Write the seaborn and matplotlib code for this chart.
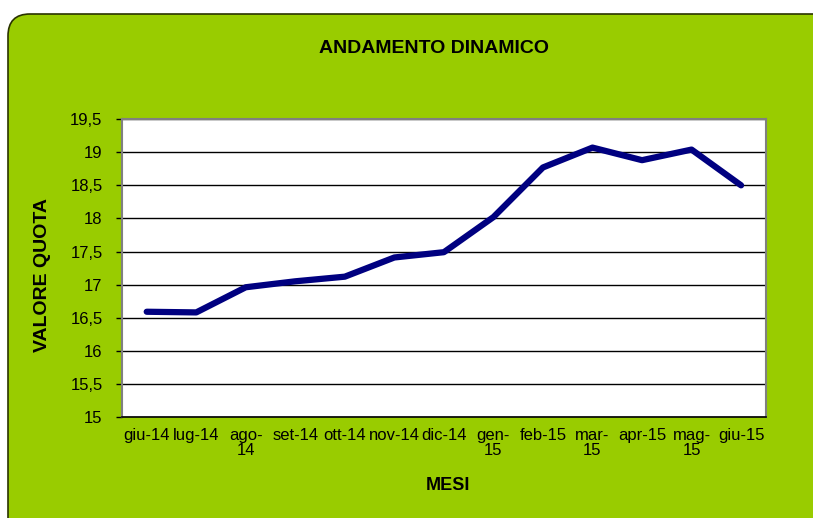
import numpy as np
import pandas as pd
import seaborn as sns
import matplotlib.pyplot as plt
from matplotlib.patches import FancyBboxPatch
from matplotlib.ticker import FuncFormatter

# Dati
mesi = ["giu-14", "lug-14", "ago-14", "set-14", "ott-14", "nov-14", "dic-14",
        "gen-15", "feb-15", "mar-15", "apr-15", "mag-15", "giu-15"]
etichette = ["giu-14", "lug-14", "ago-\n14", "set-14", "ott-14", "nov-14", "dic-14",
             "gen-\n15", "feb-15", "mar-\n15", "apr-15", "mag-\n15", "giu-15"]
valore_quota = [16.59, 16.58, 16.96, 17.05, 17.12, 17.41, 17.49,
                18.02, 18.77, 19.07, 18.88, 19.04, 18.50]

df = pd.DataFrame({"mese": mesi, "valore": valore_quota})

sns.set_style("white")
plt.rcParams["font.family"] = ["Liberation Sans", "DejaVu Sans"]
plt.rcParams["text.color"] = "black"
plt.rcParams["xtick.color"] = "black"
plt.rcParams["ytick.color"] = "black"

fig = plt.figure(figsize=(8.13, 5.18), dpi=100)
fig.patch.set_facecolor("white")

# sfondo verde arrotondato
sfondo = FancyBboxPatch((8, -30), 830, 534, boxstyle="round,pad=0,rounding_size=22",
                        transform=None, facecolor="#99CC00", edgecolor="#2a3300",
                        linewidth=1.2, zorder=0)
fig.patches.append(sfondo)

ax = fig.add_axes([0.150, 0.195, 0.792, 0.575])
ax.set_facecolor("white")
ax.set_zorder(2)

sns.lineplot(data=df, x="mese", y="valore", ax=ax, color="#000080",
             linewidth=4.5, solid_capstyle="round", solid_joinstyle="round")

ax.set_ylim(15, 19.5)
ax.set_yticks(np.arange(15, 19.51, 0.5))
ax.yaxis.set_major_formatter(FuncFormatter(lambda v, p: f"{v:g}".replace(".", ",")))
ax.set_xlim(-0.5, len(mesi) - 0.5)
ax.set_xticks(range(len(mesi)))
ax.set_xticklabels(etichette, fontsize=12, linespacing=0.95)
ax.set_xticks(np.arange(-0.5, len(mesi), 1), minor=True)
ax.tick_params(axis="x", which="major", length=0, pad=8)
ax.tick_params(axis="x", which="minor", length=4, width=1, color="black", direction="out")
ax.tick_params(axis="y", length=4, width=1, color="black", direction="out",
               labelsize=12, left=True, pad=10)

ax.grid(axis="y", color="black", linewidth=1.0)
ax.set_axisbelow(True)
ax.spines["bottom"].set_color("black")
ax.spines["bottom"].set_linewidth(1.2)
for lato in ["top", "right", "left"]:
    ax.spines[lato].set_color("#808080")
    ax.spines[lato].set_linewidth(1.5)

ax.set_xlabel("")
ax.set_ylabel("")
fig.text(0.534, 0.906, "ANDAMENTO DINAMICO", ha="center", va="center",
         fontsize=14, fontweight="bold")
fig.text(0.551, 0.062, "MESI", ha="center", va="center", fontsize=13, fontweight="bold")
fig.text(0.052, 0.469, "VALORE QUOTA", ha="center", va="center", rotation=90,
         fontsize=14, fontweight="bold")

fig.savefig("out.png", dpi=100, facecolor=fig.get_facecolor())
